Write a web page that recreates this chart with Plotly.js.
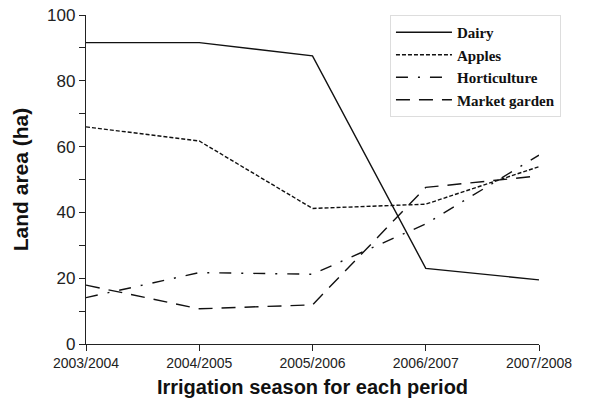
<!DOCTYPE html>
<html><head><meta charset="utf-8">
<script src="https://cdn.plot.ly/plotly-3.0.1.min.js"></script>
<style>body{margin:0;background:#fff}#c{width:605px;height:410px}</style>
</head><body><div id="c"></div>
<script>
const seasons = ["2003/2004","2004/2005","2005/2006","2006/2007","2007/2008"];
const dairy = [91.6, 91.6, 87.6, 23.0, 19.5];
const apples = [66.0, 61.7, 41.2, 42.5, 53.9];
const horticulture = [14.1, 21.7, 21.2, 36.5, 57.4];
const marketGarden = [17.9, 10.7, 11.9, 47.6, 51.1];

const mk = (name, y, dash) => ({
  type: 'scatter', mode: 'lines', name: name, x: seasons, y: y,
  line: {color: '#111', width: 1.4, dash: dash}
});
const data = [
  mk('Dairy', dairy, 'solid'),
  mk('Apples', apples, '4px,2px'),
  mk('Horticulture', horticulture, '12px,10px,2px,10px'),
  mk('Market garden', marketGarden, '14px,9px')
];
const layout = {
  width: 605, height: 410,
  margin: {l: 86, r: 66, t: 15, b: 66},
  paper_bgcolor: '#fff', plot_bgcolor: '#fff',
  showlegend: true,
  legend: {x: 0.671, y: 1, xanchor: 'left', yanchor: 'top',
    bordercolor: '#dddddd', borderwidth: 1, bgcolor: '#fff',
    itemwidth: 56,
    font: {family: 'Liberation Serif', size: 15, color: '#111', weight: 'bold'},
    tracegroupgap: 0},
  xaxis: {type: 'category', range: [0, 4], showgrid: false, zeroline: false,
    showline: true, linecolor: '#222', linewidth: 1.2,
    ticks: 'outside', ticklen: 6, tickcolor: '#222',
    tickfont: {family: 'Liberation Sans', size: 14, color: '#222'},
    title: {text: 'Irrigation season for each period', standoff: 10,
      font: {family: 'Liberation Sans', size: 20, color: '#111', weight: 'bold'}}},
  yaxis: {range: [0, 100], showgrid: false, zeroline: false,
    showline: true, linecolor: '#222', linewidth: 1.2,
    tickvals: [0,20,40,60,80,100],
    ticks: 'outside', ticklen: 6, tickcolor: '#222',
    minor: {tickvals: [10,30,50,70,90], ticks: 'outside', ticklen: 6, tickcolor: '#222'},
    tickfont: {family: 'Liberation Sans', size: 17, color: '#222'},
    title: {text: 'Land area (ha)', standoff: 12,
      font: {family: 'Liberation Sans', size: 21, color: '#111', weight: 'bold'}}}
};
Plotly.newPlot('c', data, layout, {displayModeBar: false, staticPlot: true});
</script></body></html>
